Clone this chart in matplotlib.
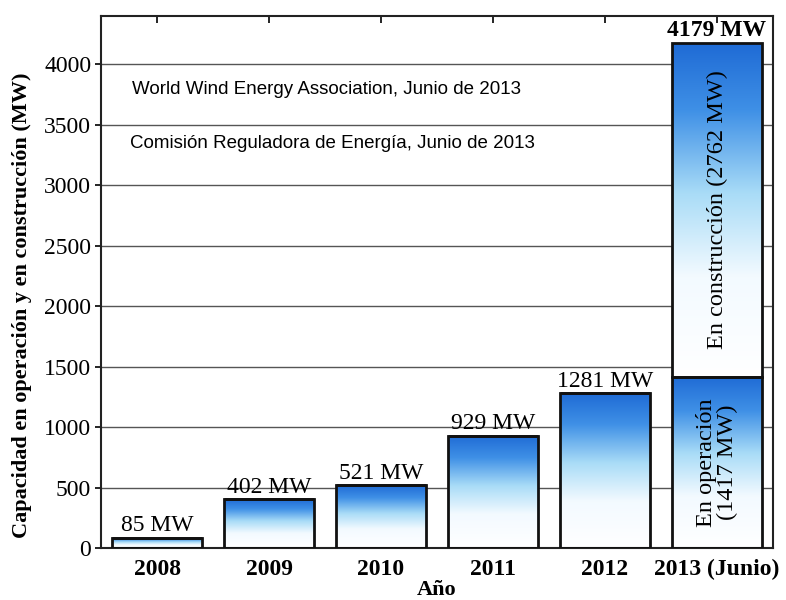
import numpy as np
import matplotlib
matplotlib.use("Agg")
import matplotlib.pyplot as plt
from matplotlib.colors import LinearSegmentedColormap

# Datos
anios = ['2008', '2009', '2010', '2011', '2012', '2013 (Junio)']
operacion = [85, 402, 521, 929, 1281, 1417]
construccion = [0, 0, 0, 0, 0, 2762]
etiquetas = ['85 MW', '402 MW', '521 MW', '929 MW', '1281 MW', '4179 MW']
fuentes = ['World Wind Energy Association, Junio de 2013',
           'Comisión Reguladora de Energía, Junio de 2013']

serif = 'Liberation Serif'
sans = 'Liberation Sans'

# white at the bottom of each bar, blue at the top
cmap = LinearSegmentedColormap.from_list(
    'barra', [(0.0, '#ffffff'), (0.3, '#f3faff'), (0.55, '#a9dcf7'),
              (0.8, '#3f90e6'), (1.0, '#1f6bd5')])
grad = np.linspace(0, 1, 256).reshape(-1, 1)


def gradient_bar(ax, bar):
    x, y = bar.get_x(), bar.get_y()
    w, h = bar.get_width(), bar.get_height()
    if h <= 0:
        return
    im = ax.imshow(grad, cmap=cmap, origin='lower', aspect='auto',
                   extent=(x, x + w, y, y + h), zorder=2, interpolation='bicubic')
    im.set_clip_path(bar)


fig = plt.figure(figsize=(7.86, 6), dpi=100)
ax = fig.add_axes([0.1285, 0.0867, 0.855, 0.8866])

x = np.arange(len(anios))
bars_op = ax.bar(x, operacion, width=0.8, facecolor='none',
                 edgecolor='#111111', linewidth=2, zorder=3)
bars_con = ax.bar(x, construccion, width=0.8, bottom=operacion, facecolor='none',
                  edgecolor='#111111', linewidth=2, zorder=3)

for b in list(bars_op) + list(bars_con):
    gradient_bar(ax, b)

totales = [o + c for o, c in zip(operacion, construccion)]
for i, (t, lab) in enumerate(zip(totales, etiquetas)):
    ax.annotate(lab, (x[i], t), xytext=(0, 1), textcoords='offset points',
                ha='center', va='bottom', fontsize=17, family=serif,
                fontweight='bold' if i == len(anios) - 1 else 'normal', zorder=4)

# textos dentro de la barra de 2013
ax.text(x[-1], operacion[-1] + construccion[-1] / 2,
        'En construcción (%d MW)' % construccion[-1], rotation=90,
        ha='center', va='center', fontsize=17.5, family=serif, zorder=4)
ax.text(x[-1], operacion[-1] / 2, 'En operación\n(%d MW)' % operacion[-1],
        rotation=90, ha='center', va='center', fontsize=17.5, family=serif,
        linespacing=1.0, zorder=4)

ax.text(0.046, 0.861, fuentes[0], transform=ax.transAxes, fontsize=13.5,
        family=sans, va='center', ha='left')
ax.text(0.043, 0.761, fuentes[1], transform=ax.transAxes, fontsize=13.5,
        family=sans, va='center', ha='left')

ax.set_xlim(-0.5, 5.5)
ax.set_ylim(0, 4400)
ax.set_yticks(np.arange(0, 4001, 500))
ax.set_xticks(x)
ax.set_xticklabels(anios, fontsize=17, family=serif, fontweight='bold')
for lab in ax.get_yticklabels():
    lab.set_fontsize(17)
    lab.set_family(serif)

ax.yaxis.grid(True, color='#555555', linewidth=1)
ax.set_axisbelow(True)
ax.tick_params(axis='x', direction='in', top=True, length=5, width=1.2, pad=8)
ax.tick_params(axis='y', direction='out', length=4, width=1.2, pad=3)
for s in ax.spines.values():
    s.set_linewidth(1.5)
    s.set_color('#222222')

ax.set_xlabel('Año', fontsize=16, family=serif, fontweight='bold', labelpad=0)
ax.set_ylabel('Capacidad en operación y en construcción (MW)', fontsize=16,
              family=serif, fontweight='bold')
ax.yaxis.set_label_coords(-0.102, 0.457)

fig.savefig('out.png', dpi=100)
plt.close(fig)
